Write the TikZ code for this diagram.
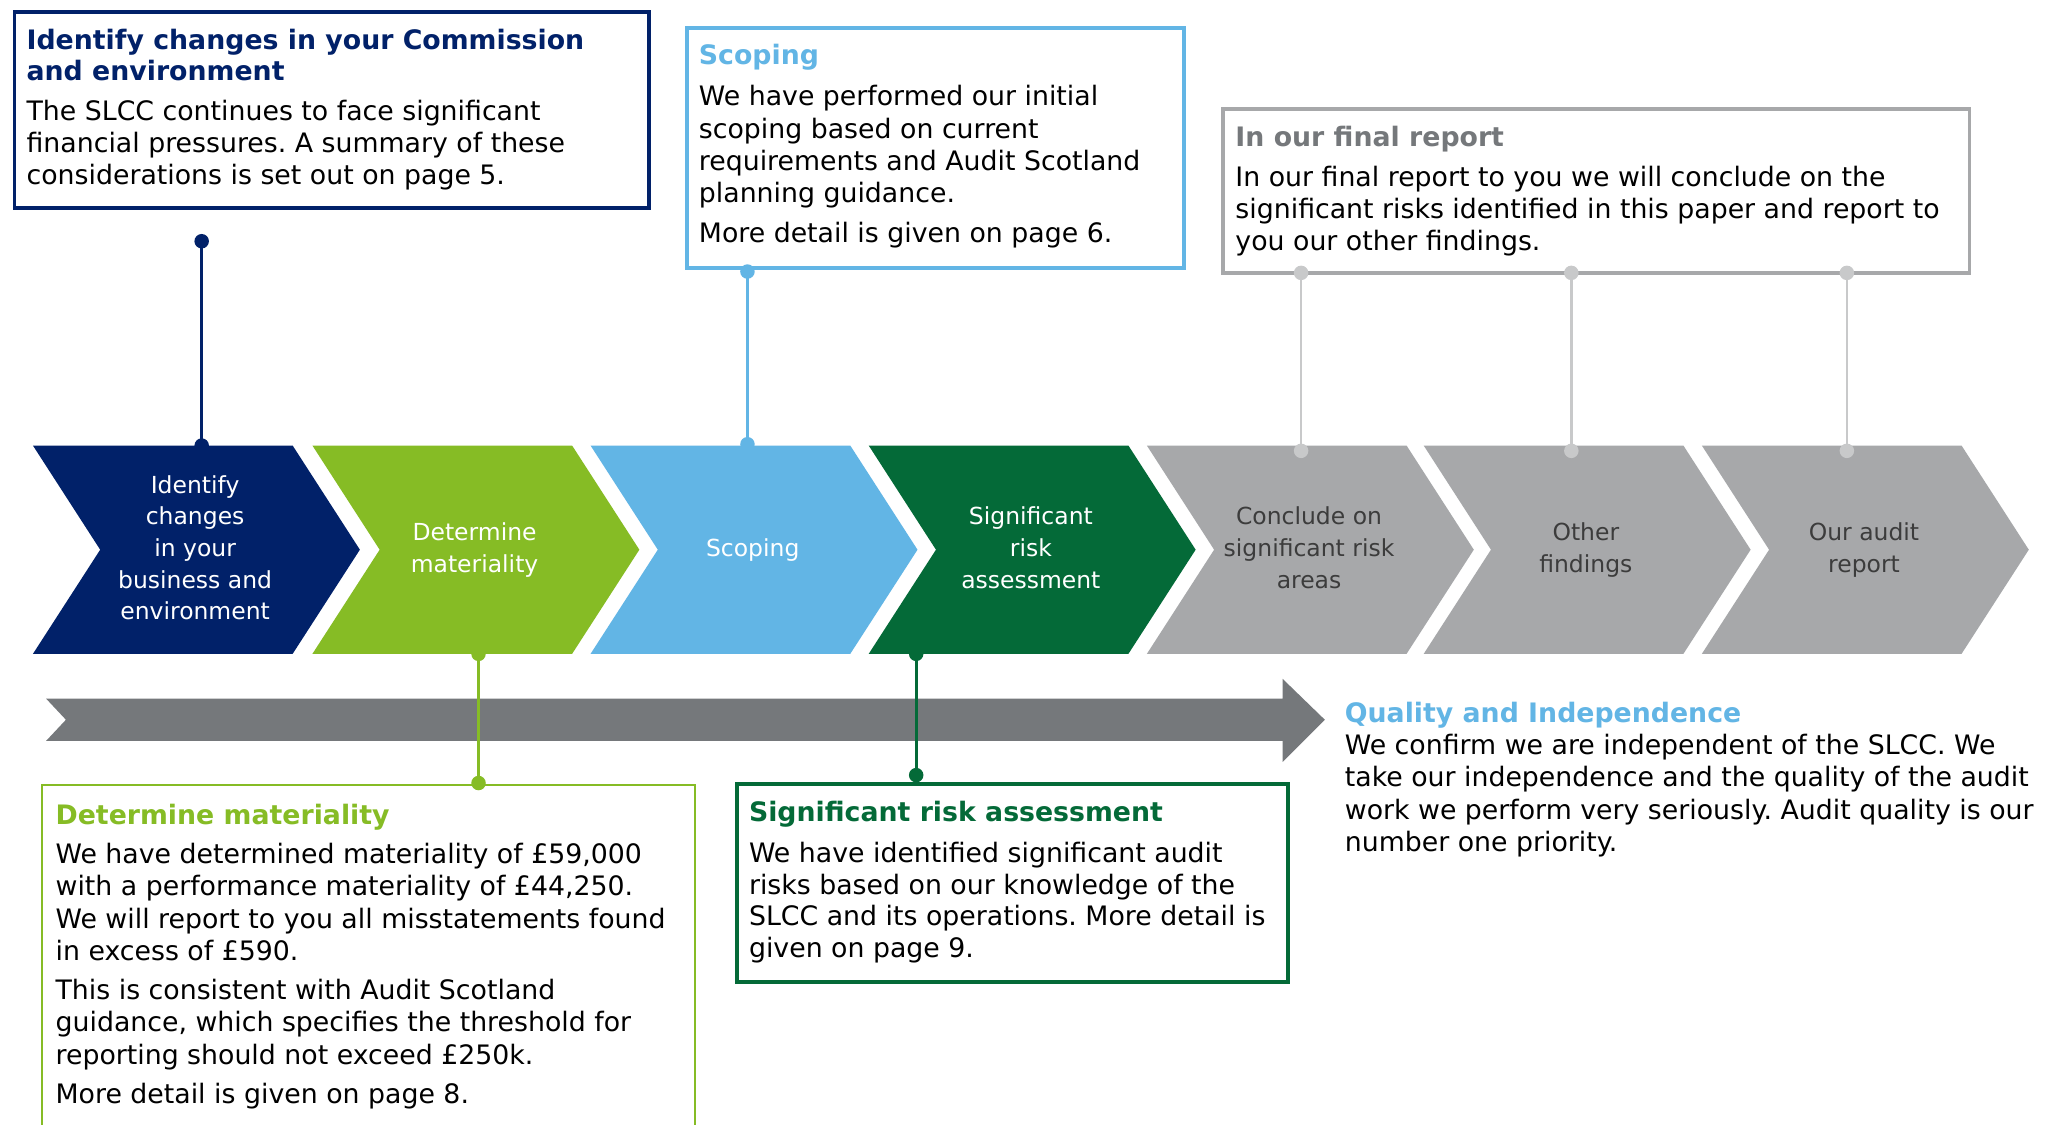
\documentclass[tikz,border=0pt]{standalone}
\usepackage{fontspec}
\setmainfont{DejaVu Sans}
\frenchspacing
\definecolor{navy}{HTML}{012169}
\definecolor{lgreen}{HTML}{86BC25}
\definecolor{lblue}{HTML}{62B5E5}
\definecolor{dgreen}{HTML}{046A38}
\definecolor{cgray}{HTML}{A7A8AA}
\definecolor{tgray}{HTML}{75787B}
\definecolor{lgray}{HTML}{C8C9CA}
\definecolor{agray}{HTML}{75787B}
\definecolor{ctext}{HTML}{3C3C3C}
\newcommand{\firstln}{\rule{0pt}{20pt}}
\newcommand{\chevpath}[2]{\fill[#2] (#1,338) -- ++(197,0) -- ++(51,79) -- ++(-51,79) -- ++(-197,0) -- ++(51,-79) -- cycle;}
\tikzset{
  bodytxt/.style={anchor=north west, inner sep=0pt, align=left, text=black,
    font=\fontsize{20.3}{24.5}\selectfont\frenchspacing},
  headtxt/.style={anchor=north west, inner sep=0pt, align=left,
    font=\fontsize{20.3}{24}\selectfont\bfseries},
  chevtxt/.style={anchor=north, inner sep=0pt, align=center,
    font=\fontsize{17.8}{24}\selectfont},
  infobox/.style={anchor=north west, inner sep=0pt, line width=3pt, fill=white},
  conn/.style={line width=2pt},
  dotmark/.style={circle, inner sep=0pt, minimum size=11pt},
}
\begin{document}
\begin{tikzpicture}[x=1pt,y=-1pt]
\useasboundingbox (0,0) rectangle (1568,853);
\clip (0,0) rectangle (1568,853);
\fill[white] (0,0) rectangle (1568,853);

% chevrons
\chevpath{25}{navy}
\chevpath{237}{lgreen}
\chevpath{448}{lblue}
\chevpath{659}{dgreen}
\chevpath{870}{cgray}
\chevpath{1080}{cgray}
\chevpath{1291}{cgray}

\node[chevtxt, text=white] (c1) at (148,354) {\firstln Identify\\changes\\in your\\business and\\environment};
\node[chevtxt, text=white] (c2) at (360,390) {\firstln Determine\\materiality};
\node[chevtxt, text=white] (c3) at (571,402) {\firstln Scoping};
\node[chevtxt, text=white] (c4) at (782,378) {\firstln Significant\\risk\\assessment};
\node[chevtxt, text=ctext] (c5) at (993,378) {\firstln Conclude on\\significant risk\\areas};
\node[chevtxt, text=ctext] (c6) at (1203,390) {\firstln Other\\findings};
\node[chevtxt, text=ctext] (c7) at (1414,390) {\firstln Our audit\\report};

% big arrow
\fill[agray] (35,530) -- (973,530) -- (973,515) -- (1005,546) -- (973,578) -- (973,562) -- (35,562) -- (50,546) -- cycle;

% boxes
\node[infobox, draw=navy, minimum width=481pt, minimum height=149pt] (b1) at (9.5,7.5) {};
\node[infobox, draw=lblue, minimum width=377pt, minimum height=182pt] (b2) at (519.5,19.5) {};
\node[infobox, draw=cgray, minimum width=566pt, minimum height=124pt] (b3) at (926.5,81.5) {};
\node[infobox, draw=lgreen, line width=1.5pt, minimum width=495.5pt, minimum height=300pt] (b4) at (30.75,594.75) {};
\node[infobox, draw=dgreen, minimum width=418pt, minimum height=150pt] (b5) at (557.5,593.5) {};

% box texts
\node[headtxt, text=navy] (h1) at (20,17) {\firstln Identify changes in your Commission\\and environment};
\node[bodytxt] (t1) at (20,71) {\firstln The SLCC continues to face significant\\financial pressures. A summary of these\\considerations is set out on page 5.};

\node[headtxt, text=lblue] (h2) at (530,29) {\firstln Scoping};
\node[bodytxt] (t2) at (530,60) {\firstln We have performed our initial\\scoping based on current\\requirements and Audit Scotland\\planning guidance.\\[5.5pt]More detail is given on page 6.};

\node[headtxt, text=tgray] (h3) at (937,91) {\firstln In our final report};
\node[bodytxt] (t3) at (937,121) {\firstln In our final report to you we will conclude on the\\significant risks identified in this paper and report to\\you our other findings.};

\node[headtxt, text=lgreen] (h4) at (42,605) {\firstln Determine materiality};
\node[bodytxt, font=\fontsize{20.3}{24.4}\selectfont\frenchspacing] (t4) at (42,635) {\firstln We have determined materiality of £59,000\\with a performance materiality of £44,250.\\We will report to you all misstatements found\\in excess of £590.\\[5.6pt]This is consistent with Audit Scotland\\guidance, which specifies the threshold for\\reporting should not exceed £250k.\\[5.6pt]More detail is given on page 8.};

\node[headtxt, text=dgreen] (h5) at (568,603) {\firstln Significant risk assessment};
\node[bodytxt, font=\fontsize{20.3}{24}\selectfont\frenchspacing] (t5) at (568,634) {\firstln We have identified significant audit\\risks based on our knowledge of the\\SLCC and its operations. More detail is\\given on page 9.};

\node[headtxt, text=lblue] (h6) at (1020,528) {\firstln Quality and Independence};
\node[bodytxt, font=\fontsize{20.3}{24.6}\selectfont\frenchspacing] (t6) at (1020,552) {\firstln We confirm we are independent of the SLCC. We\\take our independence and the quality of the audit\\work we perform very seriously. Audit quality is our\\number one priority.};

% connectors
\coordinate (p1a) at (153,183); \coordinate (p1b) at (153,338);
\coordinate (p2a) at (567,206); \coordinate (p2b) at (567,337);
\coordinate (p3a) at (987,207); \coordinate (p3b) at (987,342);
\coordinate (p4a) at (1192,207); \coordinate (p4b) at (1192,342);
\coordinate (p5a) at (1401,207); \coordinate (p5b) at (1401,342);
\coordinate (p6a) at (363,496); \coordinate (p6b) at (363,594);
\coordinate (p7a) at (695,496); \coordinate (p7b) at (695,588);

\draw[conn, navy] (p1a) -- (p1b);
\draw[conn, lblue] (p2a) -- (p2b);
\draw[conn, lgray] (p3a) -- (p3b);
\draw[conn, lgray] (p4a) -- (p4b);
\draw[conn, lgray] (p5a) -- (p5b);
\draw[conn, lgreen] (p6a) -- (p6b);
\draw[conn, dgreen] (p7a) -- (p7b);

\foreach \p/\c in {p1a/navy,p1b/navy,p2a/lblue,p2b/lblue,p3a/lgray,p3b/lgray,p4a/lgray,p4b/lgray,p5a/lgray,p5b/lgray,p6a/lgreen,p6b/lgreen,p7a/dgreen,p7b/dgreen}
  \node[dotmark, fill=\c] (d\p) at (\p) {};
\end{tikzpicture}
\end{document}
